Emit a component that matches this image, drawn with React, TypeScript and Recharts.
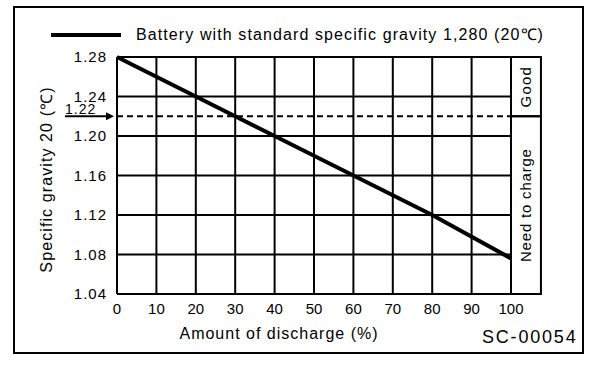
import { CartesianGrid, Line, LineChart, ReferenceArea, ReferenceLine, XAxis, YAxis } from "recharts"

// Amount of discharge (%) and the matching specific gravity at 20 °C
const discharge = [0, 20, 40, 60, 80, 100]
const gravity = [1.28, 1.24, 1.2, 1.16, 1.12, 1.076]

const xTicks = [0, 10, 20, 30, 40, 50, 60, 70, 80, 90, 100]
const yTicks = [1.04, 1.08, 1.12, 1.16, 1.2, 1.24, 1.28]

// charge threshold and the side column / arrow annotation (in data units)
const threshold = 1.22
const columnEnd = 107.6
const arrowStart = -13.2

const FONT = '"Liberation Sans", Arial, Helvetica, sans-serif'

const chartData = discharge.map((d, i) => ({ discharge: d, gravity: gravity[i] }))

function YTitle({ viewBox }: any) {
  const cx = viewBox.x - 11
  const cy = viewBox.y + viewBox.height / 2 + 4
  return (
    <text
      x={cx}
      y={cy}
      transform={`rotate(-90, ${cx}, ${cy})`}
      textAnchor="middle"
      dominantBaseline="central"
      fontSize={16}
      letterSpacing={1.1}
      fill="#000"
    >
      Specific gravity 20 (℃)
    </text>
  )
}

function XTitle({ viewBox }: any) {
  const cx = viewBox.x + viewBox.width / 2 - 35
  return (
    <text x={cx} y={viewBox.y + viewBox.height + 15} textAnchor="middle" fontSize={16} letterSpacing={1} fill="#000">
      Amount of discharge (%)
    </text>
  )
}

// arrow pointing at the 1.22 line, with its value written above it
function ThresholdArrow(props: any) {
  const { x1, y1, x2, y2 } = props
  return (
    <g>
      <line x1={x1} y1={y1} x2={x2 - 6} y2={y2} stroke="#000" strokeWidth={2} />
      <polygon points={`${x2 - 3},${y2} ${x2 - 11},${y2 - 4} ${x2 - 11},${y2 + 4}`} fill="#000" />
      <text x={x1} y={y1 - 2} fontSize={14} fill="#000" letterSpacing={1}>
        {threshold.toFixed(2)}
      </text>
    </g>
  )
}

export default function App() {
  return (
    <div
      style={{
        position: "absolute",
        top: 0,
        left: 0,
        width: 608,
        height: 368,
        background: "#fff",
        fontFamily: FONT,
        color: "#000",
      }}
    >
      {/* outer frame */}
      <div
        style={{
          position: "absolute",
          left: 13,
          top: 6,
          width: 567,
          height: 344,
          border: "2px solid #000",
        }}
      />

      {/* legend */}
      <div style={{ position: "absolute", left: 51, top: 24, height: 22, display: "flex", alignItems: "center" }}>
        <svg width={70} height={22} style={{ display: "block" }}>
          <line x1={0} y1={11} x2={70} y2={11} stroke="#000" strokeWidth={4} />
        </svg>
        <span style={{ marginLeft: 15, fontSize: 16, letterSpacing: 1.1, lineHeight: "22px", whiteSpace: "nowrap" }}>
          Battery with standard specific gravity 1,280 (20℃)
        </span>
      </div>

      <div style={{ position: "absolute", left: 482, top: 327, fontSize: 18, letterSpacing: 1.8, lineHeight: "20px" }}>
        SC-00054
      </div>

      <LineChart width={608} height={368} data={chartData} margin={{ top: 57, right: 97, bottom: 44, left: 57 }}>
        <CartesianGrid stroke="#000" strokeWidth={2} horizontalValues={yTicks} verticalValues={xTicks} />
        <XAxis
          dataKey="discharge"
          type="number"
          domain={[0, 100]}
          ticks={xTicks}
          axisLine={false}
          tickLine={false}
          tickSize={0}
          tickMargin={9}
          interval={0}
          tick={{ fill: "#000", fontSize: 15 }}
          label={<XTitle />}
        />
        <YAxis
          type="number"
          domain={[1.04, 1.28]}
          ticks={yTicks}
          axisLine={false}
          tickLine={false}
          tickSize={0}
          tickMargin={10}
          interval={0}
          tickFormatter={(v: number) => v.toFixed(2)}
          tick={{ fill: "#000", fontSize: 15, letterSpacing: 1 }}
          label={<YTitle />}
        />
        <ReferenceLine y={threshold} stroke="#000" strokeWidth={2} strokeDasharray="6 4" />
        <ReferenceArea
          x1={100}
          x2={columnEnd}
          y1={threshold}
          y2={1.28}
          ifOverflow="visible"
          fill="none"
          stroke="#000"
          strokeWidth={2}
          label={{ value: "Good", angle: -90, position: "center", fontSize: 15, letterSpacing: 1.2, fill: "#000" }}
        />
        <ReferenceArea
          x1={100}
          x2={columnEnd}
          y1={1.04}
          y2={threshold}
          ifOverflow="visible"
          fill="none"
          stroke="#000"
          strokeWidth={2}
          label={{ value: "Need to charge", angle: -90, position: "center", fontSize: 15, letterSpacing: 0.8, fill: "#000" }}
        />
        <ReferenceLine
          segment={[
            { x: arrowStart, y: threshold },
            { x: 0, y: threshold },
          ]}
          ifOverflow="visible"
          shape={<ThresholdArrow />}
        />
        <Line
          type="linear"
          dataKey="gravity"
          stroke="#000"
          strokeWidth={4}
          dot={false}
          activeDot={false}
          isAnimationActive={false}
        />
      </LineChart>
    </div>
  )
}
